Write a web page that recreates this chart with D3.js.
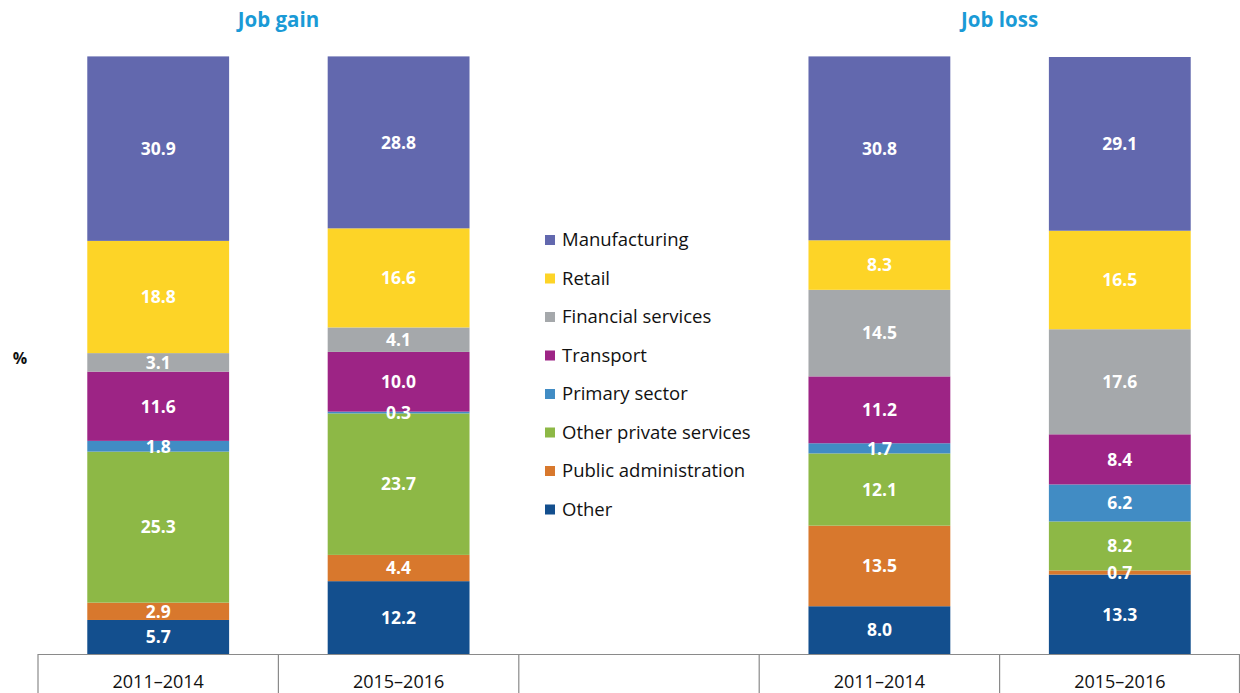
<!DOCTYPE html>
<html><head><meta charset="utf-8">
<script src="https://cdn.jsdelivr.net/npm/d3@7"></script>
<style>body{margin:0;background:#fff}svg{display:block}text{font-family:"Open Sans","Noto Sans",sans-serif}</style>
</head><body><svg id="c" width="1240" height="693"></svg>
<script>
const slots = ["g1","g2","legend","l1","l2"];
const slotLabels = ["2011–2014","2015–2016","","2011–2014","2015–2016"];
const barSlots = ["g1","g2","l1","l2"];
const sectors = ["Manufacturing","Retail","Financial services","Transport","Primary sector","Other private services","Public administration","Other"];
const colors = ["#6268ae","#fdd427","#a5a8ab","#9d2485","#418cc4","#8db846","#d8782d","#134f8e"];
const manufacturing = [30.9,28.8,30.8,29.1];
const retail = [18.8,16.6,8.3,16.5];
const financial = [3.1,4.1,14.5,17.6];
const transport = [11.6,10.0,11.2,8.4];
const primary = [1.8,0.3,1.7,6.2];
const otherPrivate = [25.3,23.7,12.1,8.2];
const publicAdmin = [2.9,4.4,13.5,0.7];
const other = [5.7,12.2,8.0,13.3];
const groupTitles = ["Job gain","Job loss"];

const series = [manufacturing,retail,financial,transport,primary,otherPrivate,publicAdmin,other];
const svg = d3.select("#c");
const x = d3.scaleBand().domain(slots).range([38,1240]).padding(0);
const y = d3.scaleLinear().domain([0,100]).range([654,57]);
const barW = x.bandwidth()*0.59;
const color = d3.scaleOrdinal().domain(sectors).range(colors);

const rows = barSlots.map((s,i)=>{const o={slot:s};sectors.forEach((k,j)=>o[k]=series[j][i]);return o;});
const stack = d3.stack().keys(sectors.slice().reverse())(rows);

const gr = svg.append("g"), gt = svg.append("g");
stack.forEach(layer=>{
  layer.forEach(d=>{
    const cx = x(d.data.slot)+x.bandwidth()/2;
    gr.append("rect").attr("x",cx-barW/2).attr("width",barW)
      .attr("y",y(d[1])).attr("height",y(d[0])-y(d[1]))
      .attr("fill",color(layer.key));
    const v = d.data[layer.key];
    gt.append("text").attr("x",cx).attr("y",(y(d[0])+y(d[1]))/2).attr("dy","0.36em")
      .attr("text-anchor","middle").attr("fill","#fff").attr("font-weight","bold")
      .attr("font-size",17.5).text(v.toFixed(1));
  });
});

const ax = svg.append("g").attr("stroke","#8a8a8a").attr("stroke-width",1.2);
ax.append("line").attr("x1",x.range()[0]).attr("x2",x.range()[1]).attr("y1",y(0)+0.5).attr("y2",y(0)+0.5);
slots.forEach(s=>{
  ax.append("line").attr("x1",x(s)).attr("x2",x(s)).attr("y1",y(0)).attr("y2",693);
});
ax.append("line").attr("x1",1239.5).attr("x2",1239.5).attr("y1",y(0)).attr("y2",693);
slots.forEach((s,i)=>{
  svg.append("text").attr("x",x(s)+x.bandwidth()/2).attr("y",682).attr("dy","0.35em")
    .attr("text-anchor","middle").attr("font-size",18).attr("fill","#111").text(slotLabels[i]);
});

[["g1","g2"],["l1","l2"]].forEach((p,i)=>{
  const cx = (x(p[0])+x(p[1])+x.bandwidth())/2;
  svg.append("text").attr("x",cx).attr("y",20).attr("dy","0.35em").attr("text-anchor","middle")
    .attr("font-size",20.5).attr("font-weight","bold").attr("fill","#1a9ad6").text(groupTitles[i]);
});
svg.append("text").attr("x",20).attr("y",358).attr("dy","0.35em").attr("text-anchor","middle")
  .attr("font-size",16).attr("font-weight","bold").attr("fill","#111").text("%");

const lg = svg.append("g");
sectors.forEach((s,i)=>{
  const yy = 240 + i*38.5;
  lg.append("rect").attr("x",545).attr("y",yy-5).attr("width",10).attr("height",10).attr("fill",color(s));
  lg.append("text").attr("x",562).attr("y",yy).attr("dy","0.35em").attr("font-size",18.5).attr("fill","#111").text(s);
});
</script></body></html>
